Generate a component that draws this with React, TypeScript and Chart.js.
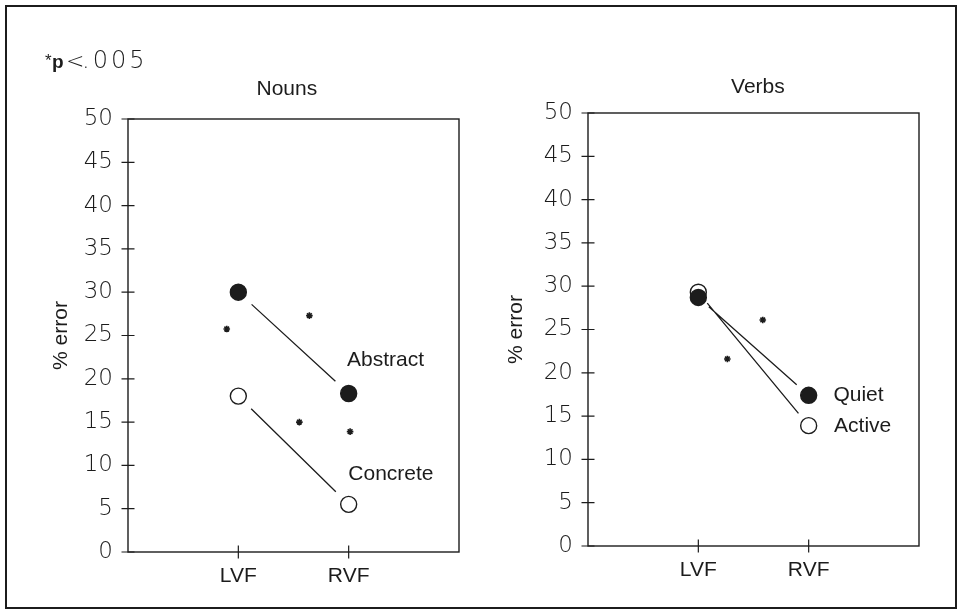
import React, { useEffect, useRef } from 'react';
import { Chart, registerables } from 'chart.js';

Chart.register(...registerables);

// ---- data ----
const categories = ['LVF', 'RVF'];
const yTickValues = [0, 5, 10, 15, 20, 25, 30, 35, 40, 45, 50];

const nounsAbstract = [30.0, 18.3];
const nounsConcrete = [18.0, 5.5];
const verbsQuiet = [28.7, 17.4];
const verbsActive = [29.3, 13.9];

// significance asterisks (x in category units: LVF = 1, RVF = 2)
const nounsStars = [
  { x: 0.895, y: 25.75 },
  { x: 1.644, y: 27.3 },
  { x: 1.553, y: 15.0 },
  { x: 2.013, y: 13.9 },
];
const verbsStars = [
  { x: 1.584, y: 26.1 },
  { x: 1.263, y: 21.6 },
];

const nounsLabels = [
  { text: 'Abstract', x: 1.985, y: 22.3 },
  { text: 'Concrete', x: 1.997, y: 9.18 },
];
const verbsLabels = [
  { text: 'Quiet', x: 2.224, y: 17.6 },
  { text: 'Active', x: 2.23, y: 14.0 },
];

const INK = '#1c1c1c';
const SANS = '"Liberation Sans", Arial, Helvetica, sans-serif';
const LIGHT = '"DejaVu Sans", "Liberation Sans", sans-serif';

type Series = { label: string; values: number[]; filled: boolean };
type Label = { text: string; x: number; y: number };
type PanelProps = {
  title: string;
  titleX: number;
  titleBaseline: number;
  series: Series[];
  stars: { x: number; y: number }[];
  labels: Label[];
  canvasLeft: number;
  yTitlePad: number;
  area: { left: number; top: number; right: number; bottom: number };
  gapStart: number;
  gapEnd: number;
  note?: boolean;
};

const CW = 480;
const CH = 610;
const XH = 40;

function Panel(props: PanelProps) {
  const ref = useRef<HTMLCanvasElement | null>(null);

  useEffect(() => {
    const canvas = ref.current;
    if (!canvas) return;
    const { series, stars, labels, area } = props;

    const decor = {
      id: 'decor',
      beforeDatasetsDraw(chart: any) {
        const ctx = chart.ctx;
        const ca = chart.chartArea;
        const xs = chart.scales.x;
        const ys = chart.scales.y;
        ctx.save();
        ctx.strokeStyle = INK;
        ctx.lineWidth = 1.4;
        // plot box
        ctx.strokeRect(ca.left, ca.top, ca.right - ca.left, ca.bottom - ca.top);
        // y ticks crossing the axis
        ctx.lineWidth = 1.2;
        ctx.beginPath();
        yTickValues.forEach((v) => {
          const py = ys.getPixelForValue(v);
          ctx.moveTo(ca.left - 6.5, py);
          ctx.lineTo(ca.left + 6.5, py);
        });
        // x ticks crossing the axis
        categories.forEach((_, i) => {
          const px = xs.getPixelForValue(i + 1);
          ctx.moveTo(px, ca.bottom - 6.5);
          ctx.lineTo(px, ca.bottom + 6.5);
        });
        ctx.stroke();
        // connecting lines with gaps around markers
        ctx.lineWidth = 1.3;
        ctx.beginPath();
        for (let d = 0; d < series.length; d++) {
          const meta = chart.getDatasetMeta(d);
          const p0 = meta.data[0];
          const p1 = meta.data[1];
          const dx = p1.x - p0.x;
          const dy = p1.y - p0.y;
          const len = Math.hypot(dx, dy);
          const ux = dx / len;
          const uy = dy / len;
          ctx.moveTo(p0.x + ux * props.gapStart, p0.y + uy * props.gapStart);
          ctx.lineTo(p1.x - ux * props.gapEnd, p1.y - uy * props.gapEnd);
        }
        ctx.stroke();
        ctx.restore();
      },
      afterDatasetsDraw(chart: any) {
        const ctx = chart.ctx;
        const xs = chart.scales.x;
        const ys = chart.scales.y;
        ctx.save();
        ctx.fillStyle = INK;
        ctx.textBaseline = 'alphabetic';
        const fs = 21;
        ctx.font = `${fs}px ${SANS}`;
        ctx.textAlign = 'left';
        labels.forEach((l) => {
          ctx.fillText(l.text, xs.getPixelForValue(l.x), ys.getPixelForValue(l.y) + fs * 0.358);
        });
        ctx.textAlign = 'center';
        ctx.fillText(props.title, xs.getPixelForValue(props.titleX), props.titleBaseline);
        if (props.note) {
          ctx.textAlign = 'left';
          ctx.font = `17px ${SANS}`;
          ctx.fillText('*', 45, 66);
          ctx.font = `bold 19px ${SANS}`;
          ctx.fillText('p', 52, 68);
          ctx.font = `200 22px ${LIGHT}`;
          ctx.fillText('<', 66, 68);
          try {
            (ctx as any).letterSpacing = '3px';
          } catch (e) {}
          ctx.font = `200 24px ${LIGHT}`;
          ctx.fillText('.005', 82, 68);
        }
        ctx.restore();
      },
    };

    const datasets: any[] = series.map((s) => ({
      label: s.label,
      data: s.values.map((v, i) => ({ x: i + 1, y: v })),
      pointRadius: 8,
      pointHoverRadius: 8,
      pointBackgroundColor: s.filled ? INK : '#ffffff',
      pointBorderColor: INK,
      pointBorderWidth: 1.4,
      showLine: false,
    }));
    datasets.push({
      label: '* p < .005',
      data: stars,
      pointStyle: 'star',
      pointRadius: 3.3,
      pointHoverRadius: 3.3,
      pointBorderColor: INK,
      pointBorderWidth: 1.6,
      showLine: false,
    });

    const chart = new Chart(canvas, {
      type: 'scatter',
      data: { datasets },
      options: {
        responsive: false,
        animation: false,
        events: [],
        layout: {
          padding: {
            left: 0,
            top: area.top,
            right: CW - area.right,
            bottom: CH - area.bottom - XH,
          },
        },
        plugins: {
          legend: { display: false },
          tooltip: { enabled: false },
          title: { display: false },
        },
        scales: {
          x: {
            type: 'linear',
            min: 0,
            max: 3,
            afterFit: (s: any) => {
              s.height = XH;
            },
            afterBuildTicks: (s: any) => {
              s.ticks = categories.map((_, i) => ({ value: i + 1 }));
            },
            ticks: {
              callback: (_v: any, i: number) => categories[i] ?? '',
              font: { family: SANS, size: 21 },
              color: INK,
              padding: 12,
              autoSkip: false,
              maxRotation: 0,
            },
            grid: { display: false, drawTicks: false },
            border: { display: false },
          },
          y: {
            type: 'linear',
            min: 0,
            max: 50,
            afterFit: (s: any) => {
              s.width = area.left;
            },
            afterBuildTicks: (s: any) => {
              s.ticks = yTickValues.map((v) => ({ value: v }));
            },
            ticks: {
              font: { family: LIGHT, size: 23, weight: 200 as any },
              color: INK,
              padding: 15,
            },
            grid: { display: false, drawTicks: false },
            border: { display: false },
            title: {
              display: true,
              text: '% error',
              font: { family: SANS, size: 21 },
              color: INK,
              padding: { top: props.yTitlePad, bottom: 0 },
            },
          },
        },
      } as any,
      plugins: [decor],
    });

    return () => {
      chart.destroy();
    };
  }, []);

  return (
    <canvas
      ref={ref}
      width={CW}
      height={CH}
      style={{ position: 'absolute', left: props.canvasLeft, top: 0, width: CW, height: CH, display: 'block' }}
    />
  );
}

export default function App() {
  return (
    <div style={{ position: 'fixed', left: 0, top: 0, width: 959, height: 610, background: '#ffffff', overflow: 'hidden' }}>
      <div
        style={{
          position: 'absolute',
          left: 5,
          top: 5,
          width: 952,
          height: 604,
          boxSizing: 'border-box',
          border: `2px solid ${INK}`,
        }}
      />
      <Panel
        title="Nouns"
        titleX={1.44}
        titleBaseline={95}
        series={[
          { label: 'Abstract', values: nounsAbstract, filled: true },
          { label: 'Concrete', values: nounsConcrete, filled: false },
        ]}
        stars={nounsStars}
        labels={nounsLabels}
        canvasLeft={0}
        yTitlePad={49}
        area={{ left: 128, top: 119, right: 459, bottom: 552 }}
        gapStart={18}
        gapEnd={18}
        note
      />
      <Panel
        title="Verbs"
        titleX={1.54}
        titleBaseline={93}
        series={[
          { label: 'Quiet', values: verbsQuiet, filled: true },
          { label: 'Active', values: verbsActive, filled: false },
        ]}
        stars={verbsStars}
        labels={verbsLabels}
        canvasLeft={479}
        yTitlePad={25}
        area={{ left: 109, top: 113, right: 440, bottom: 546 }}
        gapStart={14}
        gapEnd={16}
      />
    </div>
  );
}
